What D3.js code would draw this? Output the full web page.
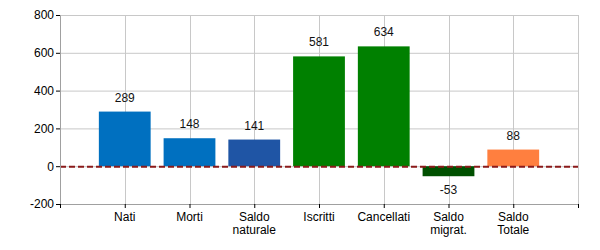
<!DOCTYPE html>
<html><head><meta charset="utf-8">
<script src="https://cdn.jsdelivr.net/npm/d3@7"></script>
<style>body{margin:0;background:#fff;}svg{display:block;font-family:Arial,"Liberation Sans",sans-serif;}</style>
</head><body><svg id="c" width="600" height="250"></svg>
<script>
const categories = [["Nati"],["Morti"],["Saldo","naturale"],["Iscritti"],["Cancellati"],["Saldo","migrat."],["Saldo","Totale"]];
const values = [289,148,141,581,634,-53,88];
const colors = ["#0070C0","#0070C0","#1F55A5","#008000","#008000","#005000","#FF7F3F"];
const yTicks = [-200,0,200,400,600,800];

const svg = d3.select("#c");
const L=60, R=578, T=15, B=204;
const x = d3.scaleLinear().domain([0,8]).range([L,R]);
const y = d3.scaleLinear().domain([-200,800]).range([B,T]);
const bw = (x(1)-x(0))*0.8;

// grid
const g = svg.append("g");
g.selectAll(".hg").data(yTicks).join("line")
  .attr("x1",L).attr("x2",R).attr("y1",d=>y(d)+0.5).attr("y2",d=>y(d)+0.5)
  .attr("stroke","#c8c8c8");
g.selectAll(".vg").data(d3.range(1,9)).join("line")
  .attr("x1",d=>Math.round(x(d))+0.5).attr("x2",d=>Math.round(x(d))+0.5).attr("y1",T).attr("y2",B)
  .attr("stroke","#c8c8c8");

// bars
svg.selectAll(".bar").data(values).join("rect")
  .attr("x",(d,i)=>x(i+1)-bw/2).attr("width",bw)
  .attr("y",d=>y(Math.max(0,d))).attr("height",d=>Math.abs(y(d)-y(0)))
  .attr("fill",(d,i)=>colors[i]);

// zero line
svg.append("line").attr("x1",L).attr("x2",R).attr("y1",y(0)+0.5).attr("y2",y(0)+0.5)
  .attr("stroke","#8B1A1A").attr("stroke-width",2).attr("stroke-dasharray","6,3");

// value labels
svg.selectAll(".vl").data(values).join("text")
  .attr("x",(d,i)=>x(i+1)).attr("y",d=>d>=0? y(d)-10 : y(d)+18)
  .attr("text-anchor","middle").attr("font-size",12).attr("fill","#111")
  .text(d=>String(d));

// axes
const yAxis = svg.append("g").attr("transform",`translate(${L},0)`)
  .call(d3.axisLeft(y).tickValues(yTicks).tickSize(4).tickPadding(2).tickFormat(d=>String(d)));
yAxis.select(".domain").attr("stroke","#a0a0a0");
yAxis.selectAll(".tick line").attr("stroke","#000");
yAxis.selectAll("text").attr("font-size",12).attr("fill","#000").attr("font-family","Arial, 'Liberation Sans', sans-serif");

const xAxis = svg.append("g").attr("transform",`translate(0,${B})`)
  .call(d3.axisBottom(x).tickValues(d3.range(0,9)).tickSize(4).tickFormat(""));
xAxis.select(".domain").attr("stroke","#a0a0a0");
xAxis.selectAll(".tick line").attr("stroke","#000");

const xl = svg.selectAll(".xl").data(categories).join("text")
  .attr("text-anchor","middle").attr("font-size",12).attr("fill","#000")
  .attr("transform",(d,i)=>`translate(${x(i+1)},${B+17})`);
xl.selectAll("tspan").data(d=>d).join("tspan")
  .attr("x",0).attr("dy",(d,j)=>j?13:0).text(d=>d);
</script></body></html>
